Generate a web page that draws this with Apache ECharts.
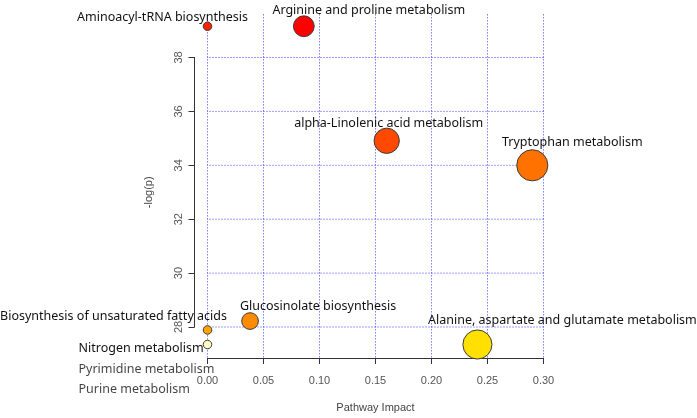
<!DOCTYPE html>
<html>
<head>
<meta charset="utf-8">
<script src="https://cdn.jsdelivr.net/npm/echarts@6/dist/echarts.min.js"></script>
<style>html,body{margin:0;padding:0;background:#fff}#c{width:697px;height:418px}</style>
</head>
<body>
<div id="c"></div>
<script>
// ---- data ----
const pathways = [
  'Aminoacyl-tRNA biosynthesis',
  'Arginine and proline metabolism',
  'alpha-Linolenic acid metabolism',
  'Tryptophan metabolism',
  'Glucosinolate biosynthesis',
  'Biosynthesis of unsaturated fatty acids',
  'Nitrogen metabolism',
  'Alanine, aspartate and glutamate metabolism'
];
const impact = [0.000, 0.086, 0.160, 0.290, 0.038, 0.000, 0.000, 0.241];
const logp   = [39.16, 39.16, 34.91, 34.00, 28.22, 27.89, 27.35, 27.35];

// pathways whose points fall below the plotted region (only their labels show)
const hiddenPathways = ['Pyrimidine metabolism', 'Purine metabolism'];
const hiddenImpact = [0.000, 0.000];
const hiddenLogp = [26.55, 25.80];

const xTicks = [0.00, 0.05, 0.10, 0.15, 0.20, 0.25, 0.30];
const yTicks = [28, 30, 32, 34, 36, 38];

// ---- styling ----
const colors = ['#ff2200', '#ff0000', '#ff4800', '#ff7200', '#ff8c00', '#ffa500', '#ffffc2', '#ffe000'];
const labelLayout = [
  {dx: -45, dy: -9, align: 'center'},
  {dx: 65, dy: -16, align: 'center'},
  {dx: 2, dy: -17, align: 'center'},
  {dx: 40, dy: -23, align: 'center'},
  {dx: 68, dy: -15, align: 'center'},
  {dx: -94, dy: -14, align: 'center'},
  {dx: -129, dy: 4, align: 'left'},
  {dx: 85, dy: -24, align: 'center'}
];
const hiddenLabelLayout = [
  {dx: -129, dy: 3, align: 'left'},
  {dx: -129, dy: 3, align: 'left'}
];

// plot region (R "usr") extends a little beyond the tick range
const X_LO = -13 / 1120, X_HI = 0.3 + 2 / 1120;
const Y_LO = 28 - 31 / 27.5, Y_HI = 38 + 45 / 27.5;
const gridStyle = {color: '#3c3cff', width: 1, type: [1, 2]};
const axisColor = '#333';
const labelFont = {fontFamily: 'Noto Sans', fontSize: 12.5, color: '#111'};

const series = [];
xTicks.forEach(t => series.push({
  type: 'line', silent: true, symbol: 'none', z: 1, clip: false,
  data: [[t, Y_LO], [t, Y_HI]], lineStyle: {...gridStyle}
}));
yTicks.forEach(t => series.push({
  type: 'line', silent: true, symbol: 'none', z: 1, clip: false,
  data: [[X_LO, t], [X_HI, t]], lineStyle: {...gridStyle}
}));

series.push({
  type: 'scatter', z: 5, clip: false,
  symbolSize: v => 8.5 + 42 * Math.sqrt(v[0]),
  data: pathways.map((p, i) => ({
    name: p,
    value: [impact[i], logp[i]],
    itemStyle: {color: colors[i], borderColor: '#3a3a3a', borderWidth: 1, opacity: 1},
    label: {
      show: true, position: 'inside', formatter: p,
      offset: [labelLayout[i].dx, labelLayout[i].dy],
      align: labelLayout[i].align, verticalAlign: 'middle', ...labelFont
    }
  }))
});
series.push({
  type: 'scatter', z: 5, clip: false, symbolSize: 1,
  data: hiddenPathways.map((p, i) => ({
    name: p,
    value: [hiddenImpact[i], hiddenLogp[i]],
    itemStyle: {color: 'rgba(0,0,0,0)', borderWidth: 0},
    label: {
      show: true, position: 'inside', formatter: p,
      offset: [hiddenLabelLayout[i].dx, hiddenLabelLayout[i].dy],
      align: hiddenLabelLayout[i].align, verticalAlign: 'middle', ...labelFont
    }
  }))
});

const tickLabelStyle = {fontFamily: 'Liberation Sans', fontSize: 11, color: '#555'};
const option = {
  animation: false,
  backgroundColor: '#fff',
  // grid spans exactly the tick range; axes are offset outward R-style
  grid: {left: 207.5, right: 153.5, top: 57.5, bottom: 85.5, containLabel: false},
  xAxis: {
    type: 'value', min: 0, max: 0.3, interval: 0.05, offset: 31,
    name: 'Pathway Impact', nameLocation: 'middle', nameGap: 44, nameMoveOverlap: false,
    nameTextStyle: {fontFamily: 'Liberation Sans', fontSize: 11, color: '#444'},
    axisLine: {show: true, onZero: false, lineStyle: {color: axisColor, width: 1}},
    splitLine: {show: false},
    axisTick: {show: true, length: 6, lineStyle: {color: axisColor, width: 1}},
    axisLabel: {show: true, margin: 17, formatter: v => v.toFixed(2), showMinLabel: true, showMaxLabel: true, ...tickLabelStyle}
  },
  yAxis: {
    type: 'value', min: 28, max: 38, interval: 2, offset: 13,
    name: '-log(p)', nameLocation: 'middle', nameGap: 40, nameMoveOverlap: false,
    nameTextStyle: {fontFamily: 'Liberation Sans', fontSize: 11, color: '#444'},
    axisLine: {show: true, onZero: false, lineStyle: {color: axisColor, width: 1}},
    splitLine: {show: false},
    axisTick: {show: true, length: 6, lineStyle: {color: axisColor, width: 1}},
    axisLabel: {show: true, margin: 10, rotate: 90, formatter: v => String(v), showMinLabel: true, showMaxLabel: true, ...tickLabelStyle}
  },
  series: series
};
echarts.init(document.getElementById('c')).setOption(option);
</script>
</body>
</html>
